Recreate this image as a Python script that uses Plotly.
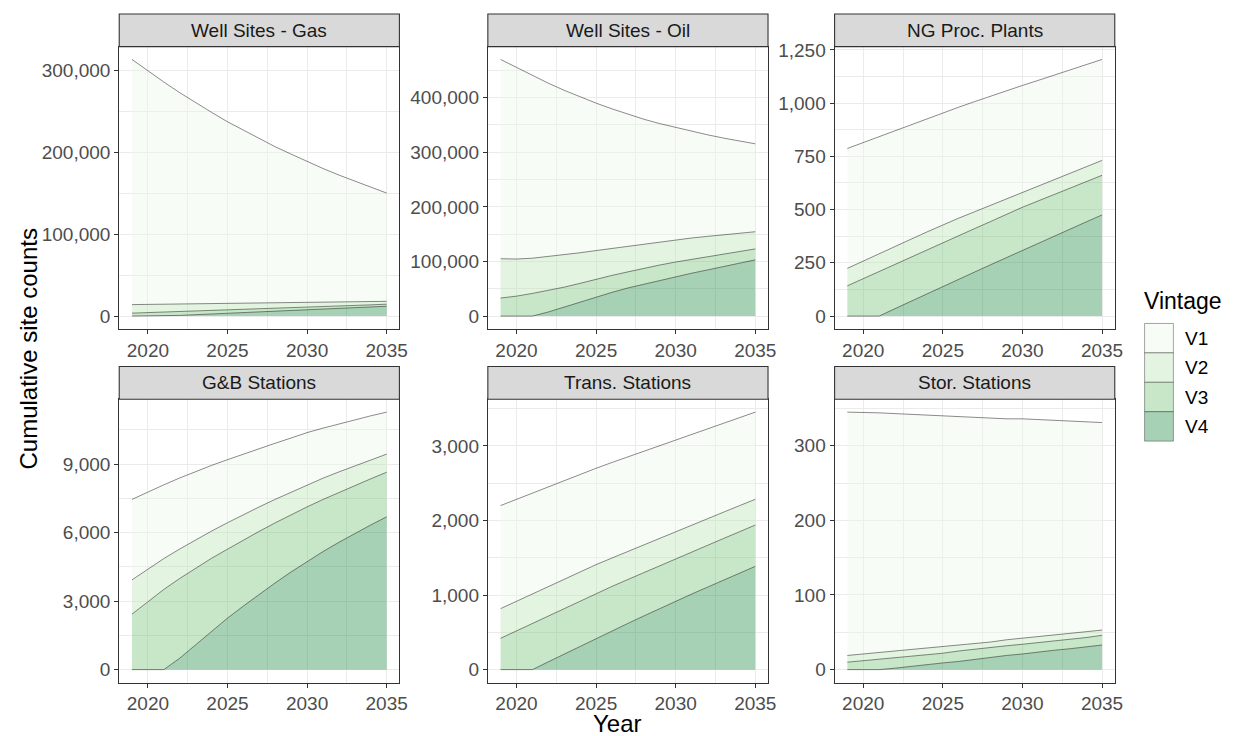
import plotly.graph_objects as go

# ---------------------------------------------------------------------------
# Data: cumulative site counts by vintage, 2019-2035
# ---------------------------------------------------------------------------
years = list(range(2019, 2036))
vintages = ["V1", "V2", "V3", "V4"]
facets = ["Well Sites - Gas", "Well Sites - Oil", "NG Proc. Plants",
          "G&B Stations", "Trans. Stations", "Stor. Stations"]

gas_v1 = [299000, 284800, 271000, 257800, 245000, 233300, 221500, 210800, 200500,
          190300, 181000, 171800, 163000, 154800, 147000, 139300, 132000]
gas_v2 = [10400, 10000, 9600, 9100, 8700, 8200, 7800, 7300, 6900, 6500, 6100, 5700,
          5300, 4900, 4500, 4000, 3500]
gas_v3 = [3600, 4200, 4900, 4750, 4600, 4400, 4250, 4100, 3950, 3700, 3550, 3300,
          3150, 2900, 2750, 2600, 2500]
gas_v4 = [0, 0, 0, 850, 1700, 2600, 3450, 4300, 5150, 6000, 6850, 7700, 8550, 9400,
          10250, 11100, 12000]

oil_v1 = [365000, 350500, 334500, 317500, 301000, 285500, 270000, 255500, 241500,
          228500, 216500, 206000, 195500, 186000, 177000, 168500, 161000]
oil_v2 = [72000, 68000, 64500, 62000, 59500, 56000, 52500, 49500, 47000, 44500, 42500,
          40500, 39000, 37000, 35000, 33500, 31500]
oil_v3 = [33000, 36500, 41500, 39500, 36500, 34500, 32500, 31000, 29500, 29000, 28000,
          27000, 25500, 24500, 23500, 21500, 20000]
oil_v4 = [0, 0, 0, 7500, 16500, 25500, 35000, 43500, 51500, 58500, 65500, 72000,
          78500, 84500, 90500, 97000, 103000]

ng_v1 = [563, 556, 550, 544, 538, 532, 526, 521, 517, 513, 507, 502, 496, 490, 484, 479, 474]
ng_v2 = [82, 83, 83, 83, 83, 84, 84, 82, 79, 76, 73, 70, 70, 70, 70, 70, 70]
ng_v3 = [142, 176, 210, 209, 208, 207, 206, 205, 204, 203, 203, 202, 199, 196, 193, 189, 186]
ng_v4 = [0, 0, 0, 35, 70, 104, 139, 173, 207, 241, 275, 309, 342, 375, 408, 442, 475]

gb_v1 = [3522, 3370, 3230, 3110, 2990, 2875, 2760, 2655, 2555, 2455, 2365, 2285, 2190,
         2105, 2020, 1930, 1839]
gb_v2 = [1500, 1420, 1350, 1290, 1235, 1190, 1158, 1113, 1068, 1028, 993, 967, 932, 897,
         862, 827, 793]
gb_v3 = [2428, 2990, 3510, 3490, 3365, 3205, 3018, 2888, 2758, 2628, 2503, 2385, 2280,
         2185, 2095, 2020, 1950]
gb_v4 = [0, 0, 0, 500, 1080, 1670, 2254, 2784, 3299, 3799, 4279, 4738, 5168, 5573, 5963,
         6333, 6690]

tr_v1 = [1382, 1367, 1354, 1341, 1323, 1310, 1292, 1281, 1268, 1256, 1244, 1231, 1218,
         1206, 1193, 1180, 1169]
tr_v2 = [398, 398, 395, 393, 390, 388, 385, 381, 377, 372, 367, 363, 360, 357, 353, 350, 345]
tr_v3 = [420, 520, 621, 616, 612, 607, 603, 596, 589, 582, 575, 567, 564, 561, 559, 556, 554]
tr_v4 = [0, 0, 0, 105, 210, 315, 420, 520, 620, 720, 820, 920, 1013, 1106, 1199, 1292, 1385]

st_v1 = [326, 324, 321, 318, 315, 312, 309, 306, 303, 300, 296, 294, 291, 288, 285, 281, 278]
st_v2 = [9, 9, 9, 9, 9, 9, 9, 8, 8, 7, 8, 8, 8, 7, 7, 8, 7]
st_v3 = [10, 12, 14, 14, 14, 14, 13, 14, 13, 14, 13, 13, 13, 13, 13, 12, 13]
st_v4 = [0, 0, 0, 2, 4, 6, 9, 11, 14, 16, 19, 21, 23, 26, 28, 31, 33]

series = {
    "Well Sites - Gas": [gas_v1, gas_v2, gas_v3, gas_v4],
    "Well Sites - Oil": [oil_v1, oil_v2, oil_v3, oil_v4],
    "NG Proc. Plants": [ng_v1, ng_v2, ng_v3, ng_v4],
    "G&B Stations": [gb_v1, gb_v2, gb_v3, gb_v4],
    "Trans. Stations": [tr_v1, tr_v2, tr_v3, tr_v4],
    "Stor. Stations": [st_v1, st_v2, st_v3, st_v4],
}
y_tick_step = [100000, 100000, 250, 3000, 1000, 100]

# ---------------------------------------------------------------------------
# Styling
# ---------------------------------------------------------------------------
W, H = 1242, 736
FONT = "Liberation Sans, Arial, sans-serif"
base_colors = [(237, 248, 233), (186, 228, 179), (116, 196, 118), (35, 139, 69)]
ALPHA = 0.4
fills = [f"rgba({r},{g},{b},{ALPHA})" for r, g, b in base_colors]
solid = [f"rgb({round(255 - ALPHA * (255 - r))},{round(255 - ALPHA * (255 - g))},"
         f"{round(255 - ALPHA * (255 - b))})" for r, g, b in base_colors]
OUTLINE = "rgba(0,0,0,0.65)"
GRID = "#EBEBEB"
FRAME = "#333333"

col_px = [(120, 402), (491, 773), (840, 1122)]
row_px = [(40, 325), (396, 682)]
STRIP_H = 33


def px_x(v):
    return v / W


def px_y(v):
    return 1 - v / H


fig = go.Figure()
layout_axes = {}
shapes = []
annotations = []

for i, facet in enumerate(facets):
    r, c = divmod(i, 3)
    suffix = "" if i == 0 else str(i + 1)
    xa, ya = "x" + suffix, "y" + suffix
    vals = series[facet]

    # stack from the newest vintage (bottom) to the oldest (top)
    for k in [3, 2, 1, 0]:
        fig.add_trace(go.Scatter(
            x=years, y=vals[k], xaxis=xa, yaxis=ya,
            stackgroup=f"stack{i}", mode="lines",
            line=dict(color=OUTLINE, width=0.7),
            fillcolor=fills[k], name=vintages[k], showlegend=False,
            hovertemplate=f"{facet}<br>{vintages[k]}: %{{y:,}}<extra></extra>",
        ))

    totals = [sum(t) for t in zip(*vals)]
    top = max(totals)
    x0, x1 = col_px[c]
    y0, y1 = row_px[r]

    common = dict(
        ticks="outside", ticklen=4, tickwidth=1.1, tickcolor=FRAME,
        tickfont=dict(family=FONT, size=19, color="#4D4D4D"),
        showgrid=True, gridcolor=GRID, gridwidth=1.1,
        showline=True, mirror=True, linecolor=FRAME, linewidth=1.1,
        zeroline=False,
    )
    layout_axes["xaxis" + suffix] = dict(
        domain=[px_x(x0), px_x(x1)], anchor=ya,
        range=[2019 - 0.8, 2035 + 0.8],
        tickmode="linear", tick0=2020, dtick=5,
        minor=dict(tick0=2020, dtick=2.5, showgrid=True, gridcolor=GRID,
                   gridwidth=0.55, ticks=""),
        **common,
    )
    step = y_tick_step[i]
    layout_axes["yaxis" + suffix] = dict(
        domain=[px_y(y1), px_y(y0)], anchor=xa,
        range=[-0.05 * top, 1.05 * top],
        tickmode="linear", tick0=0, dtick=step, tickformat=",d",
        minor=dict(tick0=0, dtick=step / 2, showgrid=True, gridcolor=GRID,
                   gridwidth=0.55, ticks=""),
        **common,
    )

    # facet strip
    shapes.append(dict(
        type="rect", xref="paper", yref="paper", layer="above",
        x0=px_x(x0), x1=px_x(x1), y0=px_y(y0), y1=px_y(y0 - STRIP_H),
        fillcolor="#D9D9D9", line=dict(color=FRAME, width=1.1),
    ))
    annotations.append(dict(
        text=facet, xref="paper", yref="paper", showarrow=False,
        x=px_x((x0 + x1) / 2), y=px_y(y0 - STRIP_H / 2),
        xanchor="center", yanchor="middle",
        font=dict(family=FONT, size=19, color="#1A1A1A"),
    ))

# axis titles
annotations.append(dict(
    text="Year", xref="paper", yref="paper", showarrow=False,
    x=px_x(621), y=px_y(723), xanchor="center", yanchor="middle",
    font=dict(family=FONT, size=24, color="#000000"),
))
annotations.append(dict(
    text="Cumulative site counts", xref="paper", yref="paper", showarrow=False,
    x=px_x(29), y=px_y(345), xanchor="center", yanchor="middle", textangle=-90,
    font=dict(family=FONT, size=24, color="#000000"),
))

# legend
annotations.append(dict(
    text="Vintage", xref="paper", yref="paper", showarrow=False,
    x=px_x(1149), y=px_y(297), xanchor="left", yanchor="middle",
    font=dict(family=FONT, size=23, color="#000000"),
))
KEY_TOP, KEY_H = 319.5, 29.7
for k, name in enumerate(vintages):
    ky0 = KEY_TOP + k * KEY_H
    shapes.append(dict(
        type="rect", xref="paper", yref="paper", layer="above",
        x0=px_x(1152), x1=px_x(1181), y0=px_y(ky0 + KEY_H), y1=px_y(ky0),
        fillcolor=solid[k], line=dict(color="rgba(0,0,0,0.35)", width=1),
    ))
    annotations.append(dict(
        text=name, xref="paper", yref="paper", showarrow=False,
        x=px_x(1191), y=px_y(ky0 + KEY_H / 2), xanchor="left", yanchor="middle",
        font=dict(family=FONT, size=19, color="#000000"),
    ))

fig.update_layout(
    width=W, height=H,
    margin=dict(l=0, r=0, t=0, b=0),
    paper_bgcolor="white", plot_bgcolor="white",
    showlegend=False,
    shapes=shapes, annotations=annotations,
    font=dict(family=FONT),
    **layout_axes,
)

fig.write_html("out.html")
